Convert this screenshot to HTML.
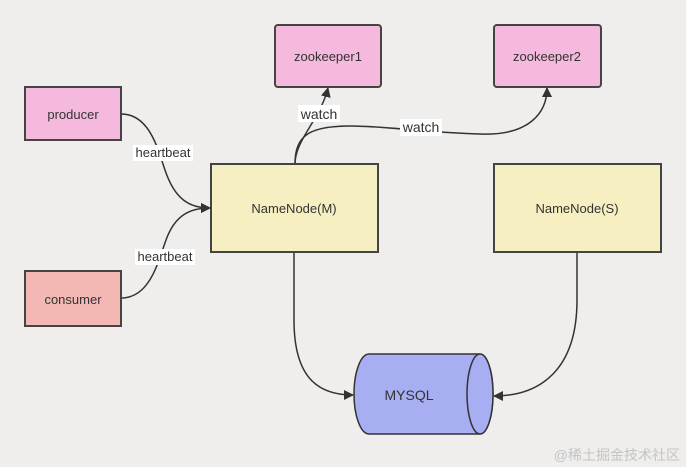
<!DOCTYPE html>
<html><head><style>
html,body{margin:0;padding:0;background:#efeeed;}
svg{display:block}
text{font-family:"Liberation Sans",sans-serif;font-size:13px;fill:#333;}
</style></head><body>
<svg width="686" height="467" viewBox="0 0 686 467" xmlns="http://www.w3.org/2000/svg">
<defs><marker id="a" markerWidth="10" markerHeight="10" refX="9" refY="5" orient="auto" markerUnits="userSpaceOnUse"><path d="M0,0 L10,5 L0,10 Z" fill="#333"/></marker></defs>
<rect width="686" height="467" fill="#efeeed"/>
<g stroke="#333" stroke-width="1.5" fill="none">
<path d="M121,114 C150,114 158,150 165,170 C175,200 190,208 210,208" marker-end="url(#a)"/>
<path d="M121,298 C150,298 158,262 166,240 C175,215 190,208 210,208" marker-end="url(#a)"/>
<path d="M295,164 C295,140 320,120 328,88" marker-end="url(#a)"/>
<path d="M295,164 C295,135 310,126 350,126 C385,126 420,132 480,134 C530,136 547,112 547,88" marker-end="url(#a)"/>
<path d="M294,252 L294,320 C294,380 320,395 353,395" marker-end="url(#a)"/>
<path d="M577,252 L577,300 C577,370 540,396 494,396" marker-end="url(#a)"/>
</g>
<rect x="25" y="87" width="96" height="53" fill="#f4b9dc" stroke="#444" stroke-width="2"/>
<text x="73" y="119" text-anchor="middle">producer</text>
<rect x="25" y="271" width="96" height="55" fill="#f3b8b4" stroke="#444" stroke-width="2"/>
<text x="73" y="304" text-anchor="middle">consumer</text>
<rect x="211" y="164" width="167" height="88" fill="#f6efc1" stroke="#444" stroke-width="2"/>
<text x="294" y="213" text-anchor="middle">NameNode(M)</text>
<rect x="494" y="164" width="167" height="88" fill="#f6efc1" stroke="#444" stroke-width="2"/>
<text x="577" y="213" text-anchor="middle">NameNode(S)</text>
<rect x="275" y="25" width="106" height="62" rx="3" fill="#f4b9dc" stroke="#444" stroke-width="2"/>
<text x="328" y="61" text-anchor="middle">zookeeper1</text>
<rect x="494" y="25" width="107" height="62" rx="3" fill="#f4b9dc" stroke="#444" stroke-width="2"/>
<text x="547" y="61" text-anchor="middle">zookeeper2</text>
<rect x="133" y="145" width="60" height="16" fill="#fff"/>
<text x="163" y="157" text-anchor="middle">heartbeat</text>
<rect x="135" y="249" width="60" height="16" fill="#fff"/>
<text x="165" y="261" text-anchor="middle">heartbeat</text>
<rect x="298" y="105" width="42" height="17" fill="#fff"/>
<text x="319" y="119" text-anchor="middle" style="font-size:14px">watch</text>
<rect x="400" y="119" width="42" height="17" fill="#fff"/>
<text x="421" y="132" text-anchor="middle" style="font-size:14px">watch</text>
<path d="M369,354 L480,354 A13,40 0 0 1 480,434 L369,434 A15,40 0 0 1 369,354 Z" fill="#a7aef2" stroke="#333" stroke-width="1.5"/>
<ellipse cx="480" cy="394" rx="13" ry="40" fill="#a7aef2" stroke="#333" stroke-width="1.5"/>
<text x="409" y="400" text-anchor="middle" style="font-size:14px">MYSQL</text>
<text x="680" y="460" text-anchor="end" style="font-size:14px;fill:#c4c4c4;font-family:'Liberation Sans','Noto Sans CJK SC',sans-serif">@稀土掘金技术社区</text>
</svg>
</body></html>
